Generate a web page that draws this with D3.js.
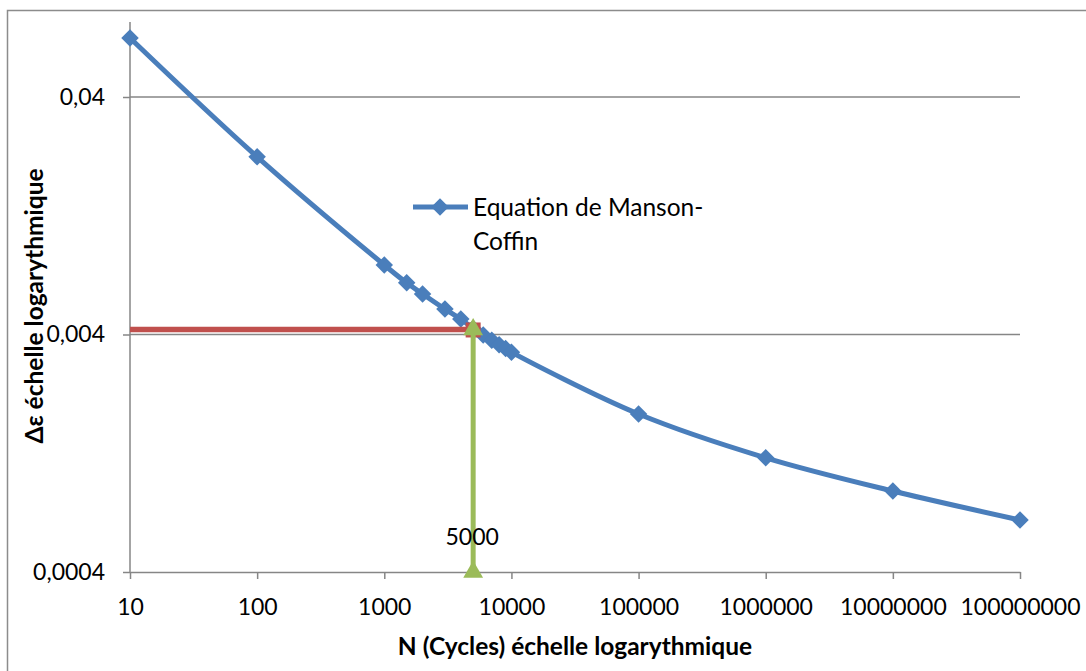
<!DOCTYPE html>
<html><head><meta charset="utf-8">
<script src="https://cdn.jsdelivr.net/npm/d3@7"></script>
<style>body{margin:0;background:#fff;} svg{display:block;font-family:Lato,"Open Sans",sans-serif;}</style>
</head><body>
<svg id="c" width="1086" height="671"></svg>
<script>
const cycles = [10,100,1000,1500,2000,3000,4000,5000,6000,7000,8000,9000,10000,100000,1000000,10000000,100000000];
const strain = [0.0709,0.0224,0.00785,0.0066,0.00593,0.00512,0.00465,0.00424,0.00398,0.00378,0.00362,0.00349,0.00337,0.00185,0.00121,0.000877,0.000662];
const xTicks = [10,100,1000,10000,100000,1000000,10000000,100000000];
const xTickLabels = ["10","100","1000","10000","100000","1000000","10000000","100000000"];
const yTicks = [0.0004,0.004,0.04];
const yTickLabels = ["0,0004","0,004","0,04"];
const markN = 5000;
const markStrain = 0.0042;
const seriesName = ["Equation de Manson-","Coffin"];

const svg = d3.select("#c");
const x = d3.scaleLog().domain([10,1e8]).range([130,1020]);
const y = d3.scaleLog().domain([0.0004,0.04]).range([572,97]);

// chart border
svg.append("rect").attr("x",7.5).attr("y",10.5).attr("width",1100).attr("height",700)
  .attr("fill","none").attr("stroke","#8c8c8c").attr("stroke-width",1.5);

// gridlines
svg.append("g").selectAll("line").data(yTicks.slice(1)).join("line")
  .attr("x1",130).attr("x2",1020).attr("y1",d=>y(d)).attr("y2",d=>y(d))
  .attr("stroke","#868686").attr("stroke-width",1.5);

// x axis
const xa = svg.append("g").attr("transform","translate(0,572)")
  .call(d3.axisBottom(x).tickValues(xTicks).tickFormat((d,i)=>xTickLabels[i]).tickSizeInner(7).tickSizeOuter(0).tickPadding(14));
xa.select(".domain").attr("stroke","#868686").attr("stroke-width",1.5);
xa.selectAll(".tick line").attr("stroke","#868686").attr("stroke-width",1.5);
xa.selectAll("text").attr("font-size",23).attr("fill","#000").attr("font-family","Lato")
  .attr("dy",null).attr("y",43);

// y axis
const ya = svg.append("g").attr("transform","translate(130,0)")
  .call(d3.axisLeft(y).tickValues(yTicks).tickFormat((d,i)=>yTickLabels[i]).tickSizeInner(7).tickSizeOuter(0).tickPadding(18));
ya.select(".domain").remove();
ya.append("line").attr("x1",0).attr("x2",0).attr("y1",22).attr("y2",572).attr("stroke","#868686").attr("stroke-width",1.5);
ya.selectAll(".tick line").attr("stroke","#868686").attr("stroke-width",1.5);
ya.selectAll("text").attr("font-size",23).attr("fill","#000").attr("font-family","Lato").attr("x",-25);

// series
const pts = cycles.map((n,i)=>[x(n),y(strain[i])]);
svg.append("path").attr("d",d3.line().curve(d3.curveCatmullRom.alpha(0.5))(pts))
  .attr("fill","none").attr("stroke","#4A7EBB").attr("stroke-width",5);
const diamond = d3.symbol().type(d3.symbolDiamond2).size(195);
svg.append("g").selectAll("path").data(pts).join("path")
  .attr("d",diamond).attr("transform",d=>`translate(${d[0]},${d[1]})`).attr("fill","#4A7EBB");

// reference lines
svg.append("line").attr("x1",x(10)).attr("x2",x(markN)).attr("y1",y(markStrain)).attr("y2",y(markStrain))
  .attr("stroke","#C0504D").attr("stroke-width",5.5);
svg.append("rect").attr("x",x(markN)-7.5).attr("y",y(markStrain)-7).attr("width",15).attr("height",15).attr("fill","#C0504D");
svg.append("line").attr("x1",x(markN)).attr("x2",x(markN)).attr("y1",y(0.0004)).attr("y2",y(markStrain))
  .attr("stroke","#9BBB59").attr("stroke-width",5);
const tri = d3.symbol().type(d3.symbolTriangle).size(170);
[0.0004, markStrain].forEach(v=>{
  svg.append("path").attr("d",tri).attr("transform",`translate(${x(markN)},${y(v)})`).attr("fill","#9BBB59");
});
svg.append("text").attr("x",x(markN)-1).attr("y",545).attr("text-anchor","middle")
  .attr("font-size",23).attr("font-family","Lato").text(String(markN));

// legend
svg.append("line").attr("x1",413).attr("x2",468).attr("y1",207).attr("y2",207).attr("stroke","#4A7EBB").attr("stroke-width",5);
svg.append("path").attr("d",diamond).attr("transform","translate(440,207)").attr("fill","#4A7EBB");
svg.append("text").attr("x",473).attr("y",216).attr("font-size",24.5).attr("font-family","Lato").text(seriesName[0]);
svg.append("text").attr("x",473).attr("y",250).attr("font-size",24.5).attr("font-family","Lato").text(seriesName[1]);

// axis titles
svg.append("text").attr("x",575).attr("y",655).attr("text-anchor","middle").attr("font-weight","bold")
  .attr("font-size",24.5).attr("font-family","Lato").text("N (Cycles) échelle logarythmique");
svg.append("text").attr("transform","translate(43,306) rotate(-90)").attr("text-anchor","middle").attr("font-weight","bold")
  .attr("font-size",24.5).attr("font-family","Lato").text("Δε  échelle logarythmique");
</script>
</body></html>
